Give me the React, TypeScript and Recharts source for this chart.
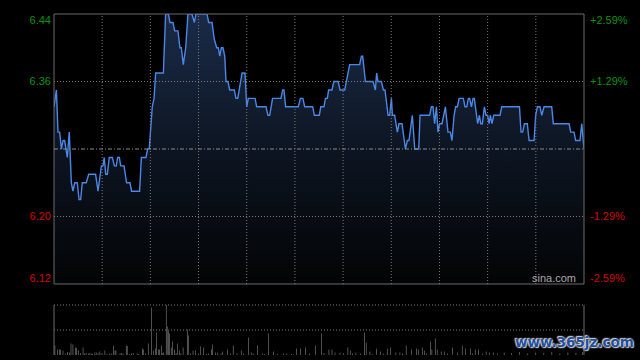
import React from "react";
import {
  ComposedChart,
  Area,
  Bar,
  XAxis,
  YAxis,
  ReferenceLine,
  ReferenceArea,
} from "recharts";

// ---- price series (minute of session, price) ----
const priceMinutes = [
  0, 1.5, 2.5, 3.5, 4.6, 5.6, 6.6, 8.3, 9.5, 10.8, 11.8, 12.9, 14.5, 15.6, 16.6, 17.6, 20.1, 21.6, 25.9, 27.4,
  29.5, 30.5, 31.3, 32.2, 33.2, 34.4, 36.3, 37.6, 38.8, 39.6, 40.7, 41.5, 43.6, 45.2, 47.3, 48.3, 53.3, 54.4,
  57.3, 58.3, 59.3, 61.2, 62.3, 63.3, 68.1, 69.5, 71.2, 72.2, 74.1, 75.1, 77.2, 78.4, 79.3, 80.5, 82.0,
  83.4, 85.9, 87.4, 88.4, 95.3, 96.3, 98.4, 99.8, 101.3, 102.3, 103.2, 104.2, 105.2, 106.3, 107.1, 108.3,
  109.4, 112.3, 113.3, 114.4, 117.1, 118.9, 120.0, 121.0, 125.2, 126.2, 132.0, 133.2, 134.3, 136.1, 141.3,
  142.4, 143.2, 144.2, 152.1, 153.4, 155.0, 156.1, 161.1, 162.1, 165.2,
  166.1, 168.1, 169.0, 170.2, 171.0, 173.1, 174.2, 176.9, 178.1, 181.0, 184.1, 190.3, 191.4, 192.2, 193.9,
  198.6, 200.1, 200.9, 201.7, 203.8, 205.1, 206.1, 208.0, 209.0, 210.1, 210.7, 212.1, 213.8, 214.8, 216.7,
  218.8, 220.0, 221.0, 223.1, 224.6, 227.1, 227.9, 233.9, 235.0, 236.0, 237.0, 238.1, 239.1, 240.1, 241.6,
  243.7, 245.3, 246.8,
  247.8, 249.1, 250.1, 251.2, 252.2, 254.9, 255.9, 257.0, 258.0, 258.8, 259.9, 260.9, 261.7, 263.8, 264.9,
  265.7, 266.7, 268.0, 269.0, 270.0, 270.9, 271.7, 272.7, 273.8, 277.7, 278.8, 289.8, 290.8, 291.8, 292.9,
  294.7, 295.8, 298.9, 299.9, 301.0, 302.6, 303.7, 305.1, 309.9, 310.9, 320.7, 321.7, 323.8, 324.8, 327.5,
  328.6, 330,
];
const priceValues = [
  6.33, 6.35, 6.30, 6.30, 6.28, 6.29, 6.29, 6.27, 6.30, 6.24, 6.23, 6.24, 6.24, 6.22, 6.22, 6.24, 6.24, 6.25, 6.25, 6.23,
  6.26, 6.26, 6.27, 6.25, 6.25, 6.27, 6.27, 6.26, 6.26, 6.27, 6.27, 6.26, 6.26, 6.24, 6.24, 6.23, 6.23, 6.27,
  6.27, 6.28, 6.28, 6.33, 6.34, 6.37, 6.37, 6.44, 6.44, 6.43, 6.43, 6.42, 6.42, 6.40, 6.40, 6.38, 6.40,
  6.44, 6.44, 6.43, 6.44, 6.44, 6.43, 6.43, 6.41, 6.40, 6.40, 6.39, 6.40, 6.40, 6.39, 6.36, 6.36,
  6.35, 6.35, 6.34, 6.34, 6.37, 6.37, 6.33, 6.34, 6.34, 6.33, 6.33, 6.32, 6.32, 6.34, 6.34,
  6.35, 6.35, 6.33, 6.33, 6.34, 6.34, 6.33, 6.33, 6.32, 6.32,
  6.33, 6.33, 6.34, 6.34, 6.35, 6.35, 6.36, 6.36, 6.35, 6.35, 6.38, 6.38, 6.39, 6.39, 6.36,
  6.36, 6.35, 6.37, 6.36, 6.36, 6.35, 6.35, 6.32, 6.32, 6.34, 6.32, 6.32, 6.30, 6.31, 6.31,
  6.28, 6.29, 6.29, 6.32, 6.28, 6.28, 6.32, 6.32, 6.33, 6.33, 6.31, 6.33, 6.30, 6.31, 6.31,
  6.33, 6.30, 6.30,
  6.29, 6.32, 6.33, 6.33, 6.34, 6.34, 6.33, 6.33, 6.34, 6.34, 6.33, 6.34, 6.34, 6.31, 6.32,
  6.31, 6.31, 6.33, 6.32, 6.32, 6.31, 6.32, 6.31, 6.32, 6.32, 6.33, 6.33, 6.30, 6.30, 6.31,
  6.31, 6.29, 6.29, 6.32, 6.33, 6.33, 6.32, 6.33, 6.33, 6.31, 6.31, 6.30, 6.30, 6.29, 6.29,
  6.31, 6.28,
];

// ---- volume (minute, relative volume) ----
const volMinutes = [
  0.6, 2.1, 3.3, 4.0, 5.6, 7, 8.5, 9.7, 10.6, 11.8, 13.3, 13.9, 15.4, 16.6, 18.1, 19, 20.0, 21.6, 22.4, 23.6, 24,
  25.5, 26.7, 27.5, 28.6, 29.9, 31.7, 33, 34.8, 36, 37.0, 38.0, 38.6, 41.1, 41.9, 43, 45.0, 45.6, 47, 48.3, 49.3,
  51.8, 52.7, 55.0, 55.6, 57, 58.7, 60.6, 61.9, 63.1, 63.7, 65.0, 65.6, 66.8, 67.4, 68.1, 69.9, 70.5, 71.2, 71.8,
  73.0, 73.8, 75.0, 76, 77.0, 78.2, 79, 80.4, 83.0, 83.6, 85, 86.6, 88.2, 90, 91.1, 93.0, 95, 96.1, 98.0, 98.6,
  100.5, 102.0, 104, 105.1, 107.9, 109.8, 111.6, 114, 116.6, 118, 121.0, 122.8, 124, 126.6, 129.7, 131, 133.5,
  136.6, 139, 142.8, 145, 148, 150.9, 153.4, 156.5, 159, 162.8, 166.6, 168.1, 171.2, 173.1, 175.0, 178.1, 180.1,
  183.0, 184.7, 186, 188.0, 191, 193.4, 194.4, 196.7, 198, 200.9, 203.4, 205, 207.5, 209.4, 212.9, 215.4, 217,
  219.3, 222.5, 225.6, 226.8, 229.3, 230.8, 232, 234.3, 235.3, 237.4, 238.6, 241.1, 243.0, 245, 248.0, 251.1,
  254.2, 256.1, 259.2, 260.5, 262.3, 264.2, 267, 269.1, 271.0, 273.5, 276, 280.3, 285, 290, 295, 300, 305, 310,
  315, 320, 325, 329,
];
const volValues = [
  19, 11, 11, 11, 9, 3, 6, 5, 23, 21, 15, 14, 9, 4, 15, 3, 4, 3, 4, 3, 2,
  5, 5, 3, 7, 4, 9, 2, 3, 3, 19, 9, 9, 3, 4, 3, 19, 18, 2, 3, 4,
  3, 2, 13, 11, 3, 23, 95, 9, 13, 45, 11, 11, 19, 4, 5, 100, 57, 48, 43,
  15, 27, 11, 4, 23, 9, 3, 15, 51, 39, 3, 9, 9, 3, 17, 15, 2, 3, 11, 21,
  5, 5, 3, 7, 11, 3, 19, 3, 9, 3, 35, 5, 3, 19, 3, 2, 43,
  7, 2, 3, 3, 2, 13, 13, 15, 3, 19, 43, 4, 11, 11, 5, 5, 4,
  15, 9, 3, 5, 3, 45, 25, 7, 2, 13, 7, 3, 13, 15, 5, 5, 3,
  19, 11, 13, 11, 15, 9, 3, 27, 11, 33, 11, 7, 7, 3, 15, 5,
  19, 13, 13, 3, 11, 11, 3, 7, 5, 5, 3, 5, 4, 6, 3, 5, 4, 6,
  3, 5, 4, 6,
];

// ---- axes ----
const priceTicks = [6.12, 6.2, 6.36, 6.44];
const pctLabels = ["-2.59%", "-1.29%", "+1.29%", "+2.59%"];
const basePrice = 6.28;
const priceDomain = [6.12, 6.44];
const sessionDomain = [0, 330];
const timeGrid = [30, 60, 90, 120, 150, 180, 210, 240, 270, 300];
const priceGrid = [6.2, 6.36];
const volDomain = [0, 100];
const volGrid = [50, 100];

const GREEN = "#0a930a";
const RED = "#d00000";
const FONT = "Arial, 'Liberation Sans', sans-serif";

const priceData = priceMinutes.map((t, i) => ({ t, price: priceValues[i] }));
const volData = volMinutes
  .map((t, i) => ({ t, vol: volValues[i] }))
  .sort((a, b) => a.t - b.t);

const edgeShift = (v: number) =>
  v === priceDomain[1] ? 6 : v === priceDomain[0] ? -6 : 0;

const LeftTick = (props: any) => {
  const { x, y, payload } = props;
  const v = payload.value as number;
  return (
    <text
      x={x}
      y={y + edgeShift(v)}
      dy="0.35em"
      textAnchor="end"
      fill={v > basePrice ? GREEN : RED}
      fontSize={11}
      fontFamily={FONT}
    >
      {v.toFixed(2)}
    </text>
  );
};

const RightTick = (props: any) => {
  const { x, y, payload } = props;
  const v = payload.value as number;
  const idx = priceTicks.indexOf(v);
  return (
    <text
      x={x}
      y={y + edgeShift(v)}
      dy="0.35em"
      textAnchor="start"
      fill={v > basePrice ? GREEN : RED}
      fontSize={11}
      fontFamily={FONT}
    >
      {pctLabels[idx]}
    </text>
  );
};

export default function App() {
  return (
    <div
      style={{
        position: "fixed",
        left: 0,
        top: 0,
        width: 640,
        height: 360,
        background: "#000",
        overflow: "hidden",
      }}
    >
      <div style={{ position: "absolute", left: 0, top: 0 }}>
        <ComposedChart
          width={640}
          height={300}
          data={priceData}
          margin={{ top: 14, right: 0, bottom: 16, left: 0 }}
        >
          <defs>
            <linearGradient id="priceFill" x1="0" y1="0" x2="0" y2="1">
              <stop offset="0%" stopColor="#1a2b48" />
              <stop offset="50%" stopColor="#0d1522" />
              <stop offset="100%" stopColor="#030405" />
            </linearGradient>
          </defs>
          <XAxis dataKey="t" type="number" domain={sessionDomain} hide allowDataOverflow />
          <YAxis
            yAxisId="left"
            width={54}
            domain={priceDomain}
            ticks={priceTicks}
            axisLine={false}
            tickLine={false}
            tickSize={0}
            tickMargin={3}
            tick={<LeftTick />}
            allowDataOverflow
          />
          <YAxis
            yAxisId="right"
            orientation="right"
            width={56}
            domain={priceDomain}
            ticks={priceTicks}
            axisLine={false}
            tickLine={false}
            tickSize={0}
            tickMargin={6}
            tick={<RightTick />}
            allowDataOverflow
          />
          <Area
            yAxisId="left"
            type="linear"
            dataKey="price"
            stroke="#4a87e6"
            strokeWidth={1.4}
            fill="url(#priceFill)"
            fillOpacity={1}
            isAnimationActive={false}
            dot={false}
            activeDot={false}
          />
          {timeGrid.map((t) => (
            <ReferenceLine
              key={"vx" + t}
              yAxisId="left"
              x={t}
              stroke="#7a7a7a"
              strokeDasharray="1 2"
            />
          ))}
          {priceGrid.map((p) => (
            <ReferenceLine
              key={"hy" + p}
              yAxisId="left"
              y={p}
              stroke="#7a7a7a"
              strokeDasharray="1 2"
            />
          ))}
          <ReferenceLine
            yAxisId="left"
            y={basePrice}
            stroke="#8a8a8a"
            strokeDasharray="4 2 1 2"
          />
          <ReferenceArea
            yAxisId="left"
            x1={sessionDomain[0]}
            x2={sessionDomain[1]}
            y1={priceDomain[0]}
            y2={priceDomain[1]}
            fill="none"
            stroke="#6a6a6a"
            strokeWidth={1}
          />
        </ComposedChart>
      </div>

      <div
        style={{
          position: "absolute",
          left: 532,
          top: 272,
          fontFamily: FONT,
          fontSize: 11,
          color: "#a8a8a8",
        }}
      >
        sina.com
      </div>

      <div style={{ position: "absolute", left: 0, top: 295 }}>
        <ComposedChart
          width={640}
          height={65}
          data={volData}
          margin={{ top: 10, right: 56, bottom: 5, left: 54 }}
        >
          <XAxis dataKey="t" type="number" domain={sessionDomain} hide />
          <YAxis domain={volDomain} hide />
          {volGrid.map((v) => (
            <ReferenceLine key={"vg" + v} y={v} stroke="#7a7a7a" strokeDasharray="1 2" />
          ))}
          <ReferenceLine x={sessionDomain[0]} stroke="#6a6a6a" />
          <ReferenceLine x={sessionDomain[1]} stroke="#6a6a6a" />
          <Bar dataKey="vol" fill="#8a8a8a" barSize={1} isAnimationActive={false} />
        </ComposedChart>
      </div>

      <div
        style={{
          position: "absolute",
          left: 515,
          top: 334,
          fontFamily: "'DejaVu Sans', sans-serif",
          fontWeight: "bold",
          fontSize: 13.5,
          color: "#1f4f9e",
          whiteSpace: "nowrap",
          textShadow:
            "0 0 2px #e8e8e8, 0 0 2px #e8e8e8, 1px 1px 1px #bbb, -1px -1px 1px #bbb",
        }}
      >
        www.365jz.com
      </div>
    </div>
  );
}
